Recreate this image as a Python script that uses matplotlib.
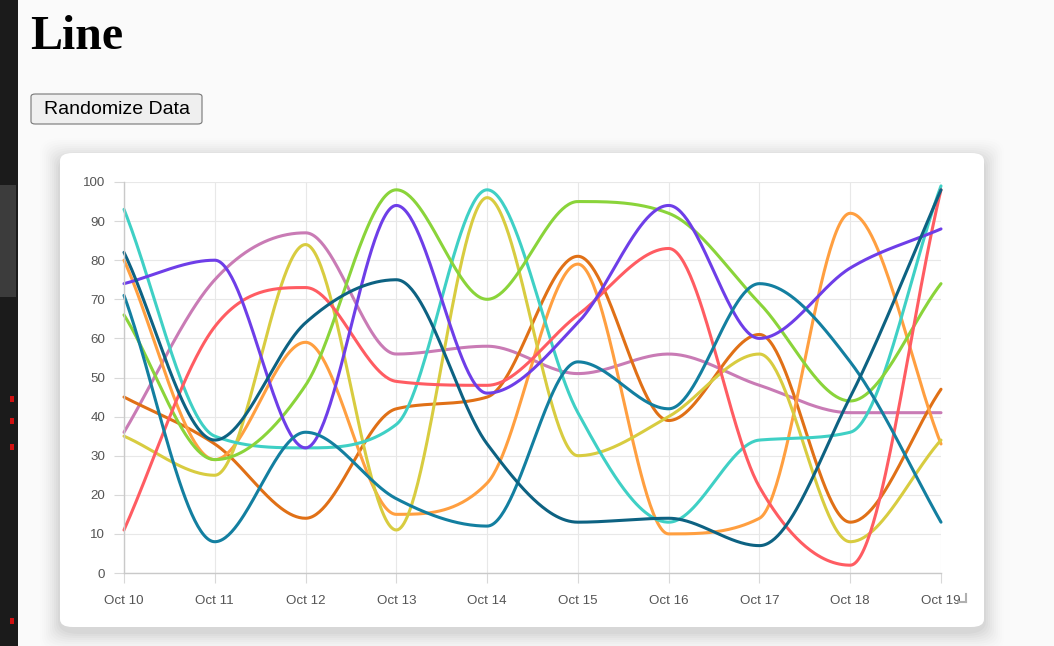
import numpy as np
import matplotlib
matplotlib.use("Agg")
import matplotlib.pyplot as plt
from matplotlib.patches import FancyBboxPatch, Rectangle
from matplotlib.lines import Line2D

# ---------------- data ----------------
labels = ["Oct 10", "Oct 11", "Oct 12", "Oct 13", "Oct 14",
          "Oct 15", "Oct 16", "Oct 17", "Oct 18", "Oct 19"]

purple     = [74, 80, 32, 94, 46, 64, 94, 60, 78, 88]
mauve      = [36, 75, 87, 56, 58, 51, 56, 48, 41, 41]
red        = [11, 63, 73, 49, 48, 66, 83, 22, 2, 98]
yellow     = [35, 25, 84, 11, 96, 30, 40, 56, 8, 34]
green      = [66, 29, 48, 98, 70, 95, 92, 69, 44, 74]
turquoise  = [93, 35, 32, 38, 98, 41, 13, 34, 36, 99]
dark_teal  = [82, 34, 64, 75, 33, 13, 14, 7, 45, 98]
blue_teal  = [71, 8, 36, 19, 12, 54, 42, 74, 54, 13]
orange     = [80, 29, 59, 15, 23, 79, 10, 14, 92, 33]
dark_orange = [45, 33, 14, 42, 45, 81, 39, 61, 13, 47]

series = [
    (mauve, "#c97bb5"),
    (dark_orange, "#e07016"),
    (orange, "#ff9f40"),
    (yellow, "#d8cc40"),
    (turquoise, "#3fd0c5"),
    (green, "#8ad43a"),
    (red, "#ff5c62"),
    (purple, "#6e3ee8"),
    (blue_teal, "#137fa0"),
    (dark_teal, "#0d6282"),
]

W, H = 1054, 646


def fx(px):
    return px / W


def fy(py):
    return 1 - py / H


def monotone(xs, ys, n=60):
    """Chart.js style monotone cubic interpolation."""
    xs = np.asarray(xs, float)
    ys = np.asarray(ys, float)
    k = len(xs)
    d = np.diff(ys) / np.diff(xs)
    m = np.zeros(k)
    m[0] = d[0]
    m[-1] = d[-1]
    for i in range(1, k - 1):
        if d[i - 1] == 0 or d[i] == 0 or np.sign(d[i - 1]) != np.sign(d[i]):
            m[i] = 0
        else:
            m[i] = (d[i - 1] + d[i]) / 2
    for i in range(k - 1):
        if abs(d[i]) < 1e-12:
            m[i] = m[i + 1] = 0
            continue
        a = m[i] / d[i]
        b = m[i + 1] / d[i]
        s = a * a + b * b
        if s <= 9:
            continue
        t = 3 / np.sqrt(s)
        m[i] = a * t * d[i]
        m[i + 1] = b * t * d[i]
    X, Y = [], []
    for i in range(k - 1):
        h = xs[i + 1] - xs[i]
        t = np.linspace(0, 1, n)
        h00 = 2 * t**3 - 3 * t**2 + 1
        h10 = t**3 - 2 * t**2 + t
        h01 = -2 * t**3 + 3 * t**2
        h11 = t**3 - t**2
        yy = h00 * ys[i] + h10 * h * m[i] + h01 * ys[i + 1] + h11 * h * m[i + 1]
        X.append(xs[i] + t * h)
        Y.append(yy)
    return np.concatenate(X), np.concatenate(Y)


fig = plt.figure(figsize=(W / 100, H / 100), dpi=100)
fig.patch.set_facecolor("#fafafa")

# browser side strip
fig.add_artist(Rectangle((0, 0), fx(18), 1, transform=fig.transFigure,
                         facecolor="#1b1b1b", edgecolor="none", zorder=0))
fig.add_artist(Rectangle((0, fy(297)), fx(16), (297 - 185) / H, transform=fig.transFigure,
                         facecolor="#3c3c3c", edgecolor="none", zorder=0.1))
for yy in [396, 418, 444, 618]:
    fig.add_artist(Rectangle((fx(10), fy(yy + 6)), fx(4), 6 / H, transform=fig.transFigure,
                             facecolor="#d01010", edgecolor="none", zorder=0.2))

# title and button
fig.text(fx(30), fy(49), "Line", family="Liberation Serif", weight="bold",
         fontsize=34.5, color="black", ha="left", va="baseline")
fig.add_artist(FancyBboxPatch((fx(31), fy(124)), fx(171), 30 / H,
                              boxstyle="round,pad=0,rounding_size=0.004",
                              transform=fig.transFigure, facecolor="#efefef",
                              edgecolor="#767676", linewidth=0.8))
fig.text(fx(116.5), fy(109), "Randomize Data", family="Liberation Sans",
         fontsize=14, color="black", ha="center", va="center")

# card shadow and card
cx0, cy0, cx1, cy1 = 60, 153, 984, 627
for i, a in enumerate([0.022, 0.020, 0.018, 0.016, 0.014, 0.012, 0.010, 0.008, 0.006, 0.004]):
    g = (i + 1) * 2.0
    fig.add_artist(FancyBboxPatch((fx(cx0 - g), fy(cy1 + g + 5)), (cx1 - cx0 + 2 * g) / W,
                                  (cy1 - cy0 + 2 * g) / H,
                                  boxstyle="round,pad=0,rounding_size=0.02",
                                  transform=fig.transFigure, facecolor="black",
                                  edgecolor="none", alpha=a, zorder=0.5))
fig.add_artist(FancyBboxPatch((fx(cx0), fy(cy1)), (cx1 - cx0) / W, (cy1 - cy0) / H,
                              boxstyle="round,pad=0,rounding_size=0.012",
                              transform=fig.transFigure, facecolor="white",
                              edgecolor="none", zorder=0.6))

# axes
ax = fig.add_axes([fx(124), fy(573), (941 - 124) / W, (573 - 182) / H])
ax.set_facecolor("none")
ax.set_zorder(1)
x = np.arange(len(labels))
for vals, col in series:
    xx, yy = monotone(x, vals)
    ax.plot(xx, yy, color=col, linewidth=2.2, solid_capstyle="round", clip_on=False)

ax.set_xlim(0, len(labels) - 1)
ax.set_ylim(0, 100)
ax.set_xticks(x)
ax.set_xticklabels(labels)
ax.set_yticks(np.arange(0, 101, 10))
ax.grid(True, color="#e8e8e8", linewidth=0.8)
ax.set_axisbelow(True)
for s in ["top", "right"]:
    ax.spines[s].set_visible(False)
ax.spines["left"].set_color("#c9c9c9")
ax.spines["bottom"].set_color("#c9c9c9")
ax.spines["left"].set_linewidth(1.0)
ax.spines["bottom"].set_linewidth(1.0)
ax.tick_params(axis="both", color="#d8d8d8", length=7.5, width=0.8,
               labelcolor="#555555", labelsize=9.6)
ax.tick_params(axis="y", pad=6)
ax.tick_params(axis="x", pad=8)
for lab in ax.get_xticklabels() + ax.get_yticklabels():
    lab.set_family("Liberation Sans")

# resize handle
fig.add_artist(Line2D([fx(958), fx(966)], [fy(602), fy(602)], transform=fig.transFigure,
                      color="#b0b0b0", linewidth=1.5))
fig.add_artist(Line2D([fx(966), fx(966)], [fy(602), fy(594)], transform=fig.transFigure,
                      color="#b0b0b0", linewidth=1.5))

fig.savefig("out.png", dpi=100, facecolor=fig.get_facecolor())
